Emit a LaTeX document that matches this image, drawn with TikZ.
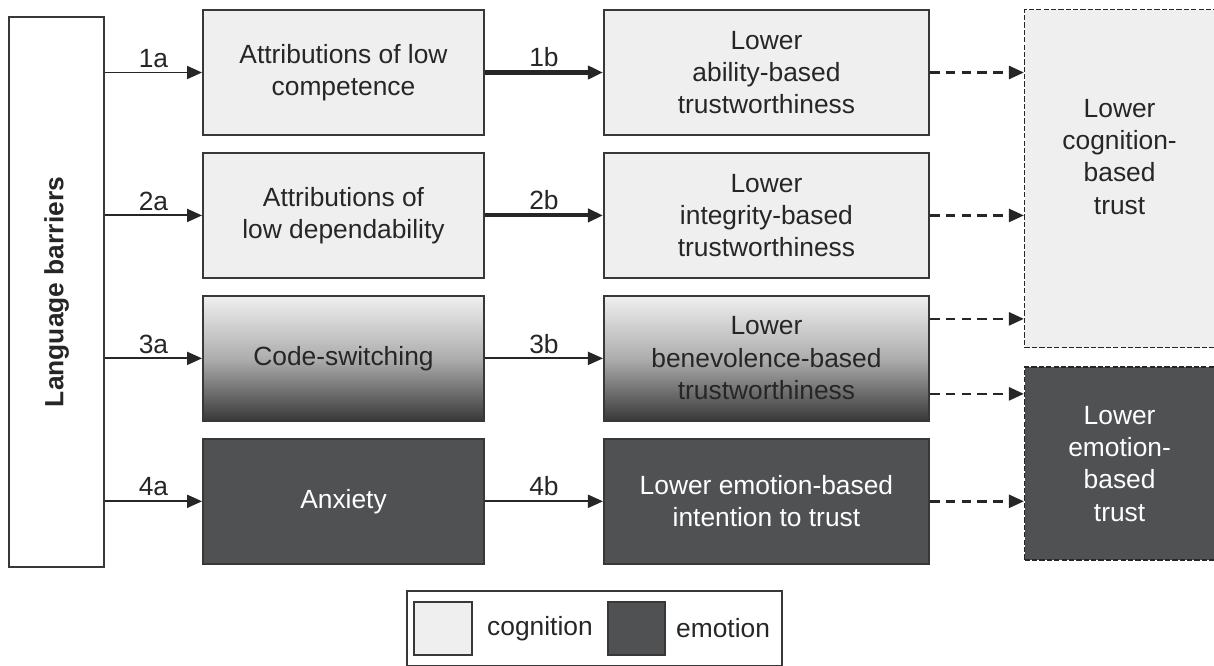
\documentclass[tikz,border=0pt]{standalone}
\usepackage{fontspec}
\setmainfont{Liberation Sans}
\usetikzlibrary{arrows.meta, positioning, fit, calc}

\definecolor{cogfill}{HTML}{EFEFEF}
\definecolor{emofill}{HTML}{4F5153}
\definecolor{edgegray}{HTML}{383838}
\newcommand{\boxfont}{\fontsize{15}{18.4}\selectfont}

\begin{document}
\begin{tikzpicture}[
	box/.style={rectangle, draw=edgegray, line width=1.1pt, align=center, font=\boxfont, inner sep=2pt},
	cog/.style={box, fill=cogfill, text=black!85, minimum height=2.5cm},
	emo/.style={box, fill=emofill, text=white, minimum height=2.5cm},
	mixed/.style={box, top color=cogfill, bottom color=black!78, middle color=black!32, text=black!85, minimum height=2.5cm},
	trust/.style={rectangle, draw=black!85, line width=0.8pt, dash pattern=on 3pt off 1.2pt, align=center, font=\boxfont, minimum width=3.8cm},
	arrow/.style={-{Triangle[length=0.3cm, width=0.26cm]}, line width=1.1pt, draw=black!85},
	bold arrow/.style={arrow, line width=2.3pt},
	dash arrow/.style={arrow, line width=1.5pt, dash pattern=on 5.5pt off 3.5pt},
	tag/.style={font=\boxfont, text=black!85, above=-1pt},
	node distance=0.32cm and 2.36cm
]
	\useasboundingbox (0,0) rectangle (24.28,-13.3);

	% Source
	\node[box, minimum width=1.9cm, minimum height=11cm,
		label={[rotate=90, font=\boxfont\bfseries, text=black!85]center:Language barriers}] (lang) at (1.13,-5.84) {};

	% Mediators
	\node[cog, minimum width=5.62cm] (att1) at (6.87,-1.45) {Attributions of low\\competence};
	\node[cog, minimum width=5.62cm, below=of att1] (att2) {Attributions of\\low dependability};
	\node[mixed, minimum width=5.62cm, below=of att2] (codesw) {Code-switching};
	\node[emo, minimum width=5.62cm, below=of codesw] (anx) {Anxiety};

	% Trustworthiness
	\node[cog, minimum width=6.5cm, right=of att1] (abil) {Lower\\ability-based\\trustworthiness};
	\node[cog, minimum width=6.5cm, right=of att2] (integ) {Lower\\integrity-based\\trustworthiness};
	\node[mixed, minimum width=6.5cm, right=of codesw] (benev) {Lower\\benevolence-based\\trustworthiness};
	\node[emo, minimum width=6.5cm, right=of anx] (intent) {Lower emotion-based\\intention to trust};

	% Trust
	\node[trust, fill=cogfill, minimum height=6.76cm, anchor=north west,
		label={[font=\boxfont, align=center, text=black!85, yshift=0.44cm]center:Lower\\cognition-\\based\\trust}] (cogtrust) at ([xshift=1.88cm]abil.north east) {};
	\node[trust, fill=emofill, text=white, minimum height=3.86cm, below=0.36cm of cogtrust] (emotrust) {Lower\\emotion-\\based\\trust};

	% Arrows
	\draw[arrow] (lang.east |- att1) -- node[tag]{1a} (att1);
	\draw[arrow] (lang.east |- att2) -- node[tag]{2a} (att2);
	\draw[arrow] (lang.east |- codesw) -- node[tag]{3a} (codesw);
	\draw[arrow] (lang.east |- anx) -- node[tag]{4a} (anx);

	\draw[bold arrow] (att1) -- node[tag]{1b} (abil);
	\draw[bold arrow] (att2) -- node[tag]{2b} (integ);
	\draw[arrow] (codesw) -- node[tag]{3b} (benev);
	\draw[arrow] (anx) -- node[tag]{4b} (intent);

	\coordinate (benevup) at ([yshift=0.79cm]benev.east);
	\coordinate (benevdown) at ([yshift=-0.71cm]benev.east);
	\draw[dash arrow] (abil) -- (abil -| cogtrust.west);
	\draw[dash arrow] (integ) -- (integ -| cogtrust.west);
	\draw[dash arrow] (benevup) -- (benevup -| cogtrust.west);
	\draw[dash arrow] (benevdown) -- (benevdown -| emotrust.west);
	\draw[dash arrow] (intent) -- (intent -| emotrust.west);

	% Legend
	\node[box, fill=cogfill, minimum width=1.16cm, minimum height=1.06cm] (keycog) at (8.86,-12.57) {};
	\node[right=0.16cm of keycog, font=\boxfont, text=black!85] (keycogtext) {cognition};
	\node[box, fill=emofill, minimum width=1.14cm, minimum height=1.06cm] (keyemo) at (12.73,-12.57) {};
	\node[right=0.08cm of keyemo, font=\boxfont, text=black!85] (keyemotext) {emotion};
	\node[draw=edgegray, line width=1.1pt, inner xsep=0.12cm, inner ysep=0.2cm, fit=(keycog)(keyemotext)] (key) {};
\end{tikzpicture}
\end{document}
